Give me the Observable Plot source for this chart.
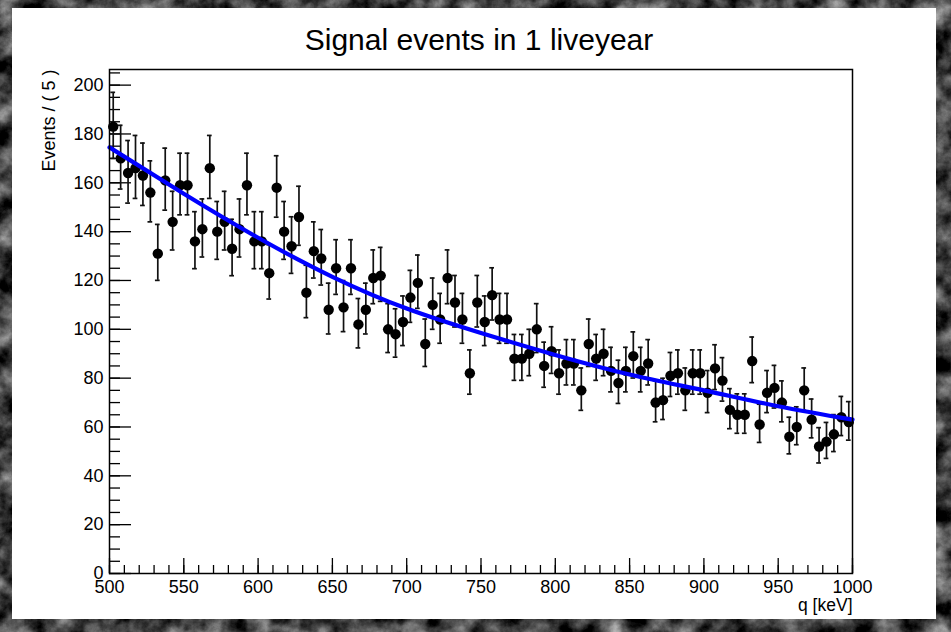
<!DOCTYPE html>
<html>
<head>
<meta charset="utf-8">
<script src="https://cdn.jsdelivr.net/npm/d3@7"></script>
<script src="https://cdn.jsdelivr.net/npm/@observablehq/plot@0.6"></script>
<style>
html, body { margin: 0; padding: 0; width: 951px; height: 632px; overflow: hidden; background: #2a2a2a; }
#bg { position: absolute; left: 0; top: 0; width: 951px; height: 632px;
  background-image: url("data:image/svg+xml;utf8,<svg xmlns='http://www.w3.org/2000/svg' width='951' height='632'><filter id='n' color-interpolation-filters='sRGB'><feTurbulence type='fractalNoise' baseFrequency='0.04' numOctaves='5' seed='11'/><feColorMatrix type='matrix' values='1.1 0 0 0 -0.3  1.1 0 0 0 -0.3  1.1 0 0 0 -0.3  0 0 0 0 1'/></filter><rect width='100%' height='100%' filter='url(%23n)'/></svg>"); }
#canvas { position: absolute; left: 12px; top: 8px; width: 924px; height: 611px; background: #fff; }
#title { position: absolute; left: 0; top: 25px; width: 958px; text-align: center;
  font-family: "Liberation Sans", Arial, sans-serif; font-size: 30px; line-height: 30px; color: #000; }
#chart { position: absolute; left: 0; top: 0; }
</style>
</head>
<body>
<div id="bg"></div>
<div id="canvas"></div>
<div id="title">Signal events in 1 liveyear</div>
<div id="chart"></div>
<script>
// Bin centres (keV) and counts per 5 keV bin
const binLow = 500, binWidth = 5;
const counts = [
  183, 170, 164, 166, 163, 156, 131, 161, 144, 159,
  159, 136, 141, 166, 140, 144, 133, 141, 159, 136,
  136, 123, 158, 140, 134, 146, 115, 132, 129, 108,
  125, 109, 125, 102, 108, 121, 122, 100, 98, 103,
  113, 119, 94, 110, 104, 121, 111, 104, 82, 111,
  103, 114, 104, 104, 88, 88, 90, 100, 85, 91,
  82, 86, 86, 75, 94, 88, 90, 83, 78, 83,
  89, 83, 86, 70, 71, 81, 82, 75, 82, 82,
  74, 84, 79, 67, 65, 65, 87, 61, 74, 76,
  70, 56, 60, 75, 63, 52, 54, 57, 64, 62
];
// Fitted pdf curve
const curveQ = [500, 550, 600, 650, 700, 750, 800, 850, 900, 950, 1000];
const curveN = [174.5, 155.5, 137.5, 121.5, 108.5, 98.5, 89.5, 81.5, 75, 68.5, 63];
// Axis ticks
const xMajor = [500, 550, 600, 650, 700, 750, 800, 850, 900, 950, 1000];
const xMinor = d3.range(500, 1001, 10);
const yMajor = [0, 20, 40, 60, 80, 100, 120, 140, 160, 180, 200];
const yMinor = d3.range(0, 206, 5);
const yMax = 206.4;

const data = counts.map((n, i) => {
  const s = Math.sqrt(n + 0.25);
  return { q: binLow + (i + 0.5) * binWidth, n, lo: n + 0.5 - s, hi: n + 0.5 + s };
});
const curve = curveQ.map((q, i) => ({ q, n: curveN[i] }));

const W = 951, H = 632, mL = 109, mR = 99, mT = 69, mB = 59;
const fw = W - mL - mR, fh = H - mT - mB;
const cap = 1.6;

const chart = Plot.plot({
  width: W, height: H,
  marginLeft: mL, marginRight: mR, marginTop: mT, marginBottom: mB,
  style: { background: "transparent", fontFamily: "'Liberation Sans', Arial, sans-serif", fontSize: "18px", color: "#000" },
  x: { domain: [500, 1000] },
  y: { domain: [0, yMax] },
  marks: [
    // inward ticks
    Plot.ruleX(xMinor, { x: d => d, insetTop: fh - 8, stroke: "#000", strokeWidth: 1.3 }),
    Plot.ruleX(xMajor, { x: d => d, insetTop: fh - 15, stroke: "#000", strokeWidth: 1.3 }),
    Plot.ruleY(yMinor, { y: d => d, insetRight: fw - 11, stroke: "#000", strokeWidth: 1.3 }),
    Plot.ruleY(yMajor, { y: d => d, insetRight: fw - 22, stroke: "#000", strokeWidth: 1.3 }),
    Plot.axisX({ ticks: xMajor, tickSize: 0, tickPadding: 7, tickFormat: d => String(d), label: null }),
    Plot.axisY({ ticks: yMajor, tickSize: 0, tickPadding: 6, tickFormat: d => String(d), label: null }),
    Plot.text(["q [keV]"], { frameAnchor: "bottom-right", textAnchor: "end", dy: 37, fontSize: 17.5 }),
    Plot.text(["Events / ( 5 )"], { frameAnchor: "top-left", rotate: -90, textAnchor: "end", dx: -67, dy: 0, fontSize: 18 }),
    // error bars
    Plot.ruleX(data, { x: "q", y1: "lo", y2: "hi", stroke: "#111", strokeWidth: 1.7 }),
    Plot.ruleY(data, { y: "hi", x1: d => d.q - cap, x2: d => d.q + cap, stroke: "#111", strokeWidth: 1.7 }),
    Plot.ruleY(data, { y: "lo", x1: d => d.q - cap, x2: d => d.q + cap, stroke: "#111", strokeWidth: 1.7 }),
    Plot.ruleY(data, { y: "n", x1: d => d.q - binWidth / 2, x2: d => d.q + binWidth / 2, stroke: "#111", strokeWidth: 1.7 }),
    Plot.dot(data, { x: "q", y: "n", r: 5.2, fill: "#000", stroke: "none" }),
    // pdf curve
    Plot.line(curve, { x: "q", y: "n", stroke: "#0000ff", strokeWidth: 4.2, curve: "natural" }),
    Plot.frame({ stroke: "#000", strokeWidth: 1.5 })
  ]
});
document.getElementById("chart").appendChild(chart);
</script>
</body>
</html>
